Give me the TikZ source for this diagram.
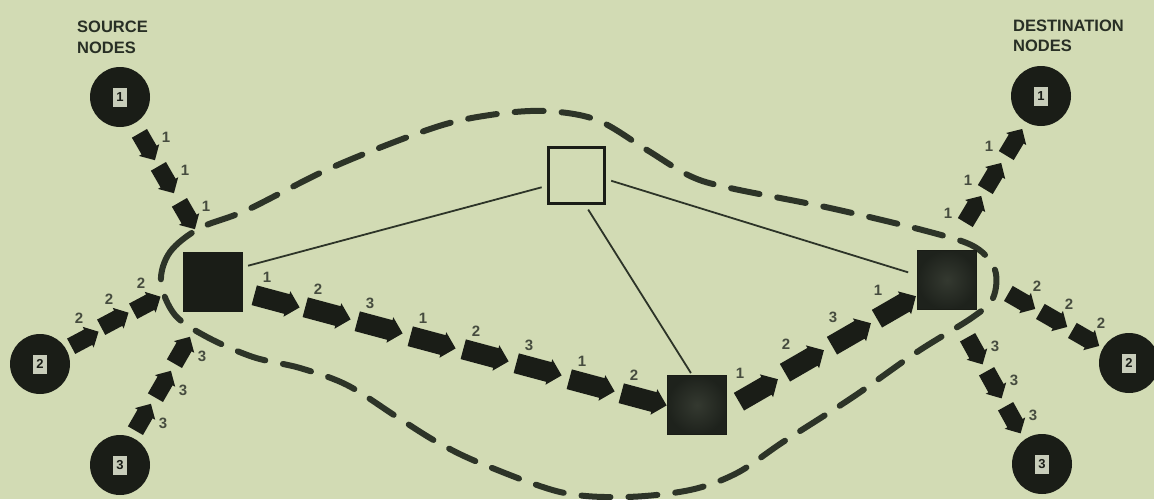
\documentclass[tikz,border=0pt]{standalone}
\usepackage{fontspec}
\setmainfont{Liberation Sans}
\usetikzlibrary{shapes.arrows}
\definecolor{bg}{RGB}{210,219,180}
\definecolor{ink}{RGB}{26,29,23}
\definecolor{dashc}{RGB}{45,52,40}
\definecolor{lab}{RGB}{70,76,63}
\definecolor{boxc}{RGB}{200,205,186}
\definecolor{rtrin}{RGB}{52,57,48}
\definecolor{rtrout}{RGB}{30,34,28}
\definecolor{titc}{RGB}{40,47,37}
\begin{document}
\begin{tikzpicture}[x=1pt,y=-1pt,
  host/.style={circle, fill=ink, minimum size=60pt, inner sep=0pt},
  digitbox/.style={fill=boxc, minimum width=14pt, minimum height=19pt, inner sep=0pt,
    font=\bfseries\fontsize{13}{13}\selectfont, text=ink},
  router/.style={draw=ink, line width=1.5pt, minimum size=59pt, inner sep=0pt},
  link/.style={draw=dashc, line width=1.8pt},
  pkbig/.style={single arrow, fill=ink, inner sep=0pt, text width=0pt,
    text height=10pt, text depth=10pt, minimum height=47pt,
    single arrow head extend=3pt, single arrow head indent=0pt},
  pksmall/.style={single arrow, fill=ink, inner sep=0pt, text width=0pt,
    text height=8.5pt, text depth=8.5pt, minimum height=31pt,
    single arrow head extend=3pt, single arrow head indent=0pt},
  lbl/.style={font=\bfseries\fontsize{15}{15}\selectfont, text=lab, inner sep=0pt},
  titletext/.style={font=\bfseries\fontsize{16.5}{18}\selectfont, text=titc, inner sep=0pt, anchor=base west},
  boundary/.style={draw=dashc, line width=6pt, line cap=round, dash pattern=on 29pt off 18pt}
]
\useasboundingbox[fill=bg] (0,0) rectangle (1154,499);

% titles
\node[titletext] (srcA) at (77,32) {SOURCE};
\node[titletext] (srcB) at (77,53) {NODES};
\node[titletext] (dstA) at (1013,31) {DESTINATION};
\node[titletext] (dstB) at (1013,51) {NODES};

% dashed boundary
\draw[boundary] plot[smooth cycle, tension=0.55] coordinates {
 (161,282) (170,252) (200,228) (247,210) (333,167) (433,128) (490,115) (545,111)
 (597,120) (647,150) (690,176) (730,188) (830,208) (930,232) (975,247) (995,270)
 (993,298) (973,317) (917,352) (853,397) (783,442) (737,473) (690,490) (625,497)
 (560,492) (480,463) (437,442) (397,417) (347,385) (300,368) (253,357) (207,337)
 (175,315)};

% routers
\node[router, fill=ink] (A) at (213,282) {};
\node[router, inner color=rtrin, outer color=rtrout] (B) at (697,405) {};
\node[router, inner color=rtrin, outer color=rtrout] (C) at (947,280) {};
\node[router, fill=bg, line width=3pt, minimum size=56pt] (D) at (576,175) {};

% links
\draw[link, shorten <=5pt, shorten >=5pt] ([yshift=15pt]A.east) -- ([yshift=-11pt]D.west);
\draw[link, shorten <=6pt, shorten >=9pt] ([yshift=-4pt]D.east) -- ([yshift=5pt]C.west);
\draw[link, shorten <=6pt, shorten >=2pt] ([xshift=9pt]D.south) -- ([xshift=-5pt]B.north);

% hosts
\foreach \n/\x/\y/\t in {s1/120/97/1, s2/40/364/2, s3/120/465/3,
                         d1/1041/96/1, d2/1129/363/2, d3/1042/464/3} {
  \node[host] (\n) at (\x,\y) {};
  \node[digitbox] (\n b) at (\n) {\t};
}

% packets A -> B
\foreach \x/\y/\t [count=\i] in {272/300/1, 323/312/2, 375/326/3, 428/341/1,
                                 481/354/2, 534/368/3, 587/384/1, 639/398/2} {
  \node[pkbig, rotate=-15] (m\i) at (\x,\y) {};
  \node[lbl] (ml\i) at (\x-5,\y-23) {\t};
}
% packets B -> C
\foreach \x/\y/\t [count=\i] in {754/393/1, 800/364/2, 847/337/3, 892/310/1} {
  \node[pkbig, rotate=30, minimum height=45pt] (n\i) at (\x,\y) {};
  \node[lbl] (nl\i) at (\x-14,\y-20) {\t};
}
% source 1
\foreach \x/\y [count=\i] in {145/143, 164/176, 185/212} {
  \node[pksmall, rotate=-60] (a\i) at (\x,\y) {};
  \node[lbl] (al\i) at (\x+21,\y-6) {1};
}
% source 2
\foreach \x/\y [count=\i] in {81/341, 111/322, 143/306} {
  \node[pksmall, rotate=28] (b\i) at (\x,\y) {};
  \node[lbl] (bl\i) at (\x-2,\y-23) {2};
}
% source 3
\foreach \x/\y [count=\i] in {141/421, 161/388, 180/354} {
  \node[pksmall, rotate=60] (c\i) at (\x,\y) {};
  \node[lbl] (cl\i) at (\x+22,\y+2) {3};
}
% destination 1
\foreach \x/\y [count=\i] in {971/213, 991/180, 1012/146} {
  \node[pksmall, rotate=59] (e\i) at (\x,\y) {};
  \node[lbl] (el\i) at (\x-23,\y) {1};
}
% destination 2
\foreach \x/\y [count=\i] in {1018/299, 1050/317, 1082/336} {
  \node[pksmall, rotate=-30] (f\i) at (\x,\y) {};
  \node[lbl] (fl\i) at (\x+19,\y-13) {2};
}
% destination 3
\foreach \x/\y [count=\i] in {973/347, 992/381, 1011/416} {
  \node[pksmall, rotate=-61] (g\i) at (\x,\y) {};
  \node[lbl] (gl\i) at (\x+22,\y-1) {3};
}
\end{tikzpicture}
\end{document}
